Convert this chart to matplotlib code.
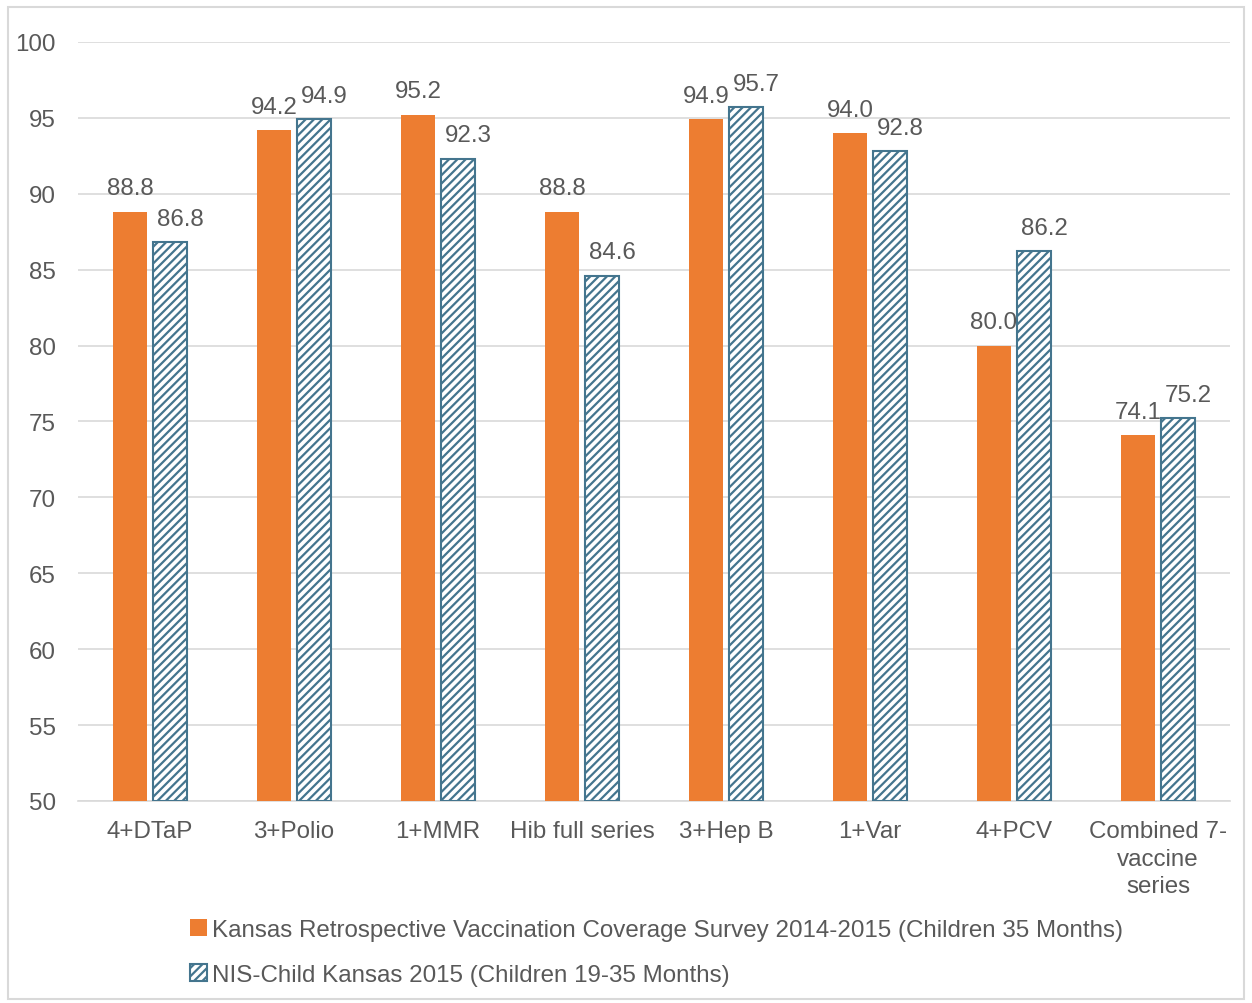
import numpy as np
import matplotlib.pyplot as plt
from matplotlib.patches import Rectangle

plt.rcParams['font.family'] = ['Liberation Sans', 'DejaVu Sans']
plt.rcParams['hatch.linewidth'] = 1.6

categories = ['4+DTaP', '3+Polio', '1+MMR', 'Hib full series', '3+Hep B',
              '1+Var', '4+PCV', 'Combined 7-\nvaccine\nseries']
kansas_survey = [88.8, 94.2, 95.2, 88.8, 94.9, 94.0, 80.0, 74.1]
nis_child = [86.8, 94.9, 92.3, 84.6, 95.7, 92.8, 86.2, 75.2]

series_names = ['Kansas Retrospective Vaccination Coverage Survey 2014-2015 (Children 35 Months)',
                'NIS-Child Kansas 2015 (Children 19-35 Months)']

orange = '#ED7D31'
teal = '#44758E'
text_gray = '#595959'
fs = 17.4

fig = plt.figure(figsize=(12.52, 10.04), dpi=100)
ax = fig.add_axes([0.0623, 0.2012, 0.9201, 0.756])

x = np.arange(len(categories))
w = 0.23
b1 = ax.bar(x - 0.139, np.array(kansas_survey) - 50, w, bottom=50, color=orange,
            label=series_names[0], zorder=3)
b2 = ax.bar(x + 0.139, np.array(nis_child) - 50, w, bottom=50, color='white',
            edgecolor=teal, hatch='////', linewidth=1.5, label=series_names[1], zorder=3)

for xi, v in zip(x - 0.139, kansas_survey):
    ax.annotate(f'{v:.1f}', (xi, v), xytext=(0, 9), textcoords='offset points',
                ha='center', va='bottom', fontsize=fs, color=text_gray)
for xi, v in zip(x + 0.139, nis_child):
    ax.annotate(f'{v:.1f}', (xi + 0.07, v), xytext=(0, 9), textcoords='offset points',
                ha='center', va='bottom', fontsize=fs, color=text_gray)

ax.set_ylim(50, 100)
ax.set_xlim(-0.5, len(categories) - 0.5)
ax.set_yticks(range(50, 101, 5))
ax.set_xticks(x)
ax.set_xticklabels(categories, fontsize=fs, color=text_gray, linespacing=1.3)
ax.tick_params(axis='y', labelsize=fs, labelcolor=text_gray, length=0, pad=16)
ax.tick_params(axis='x', length=0, pad=14)
ax.grid(axis='y', color='#D9D9D9', linewidth=1.2, zorder=0)
for side in ['top', 'right', 'left']:
    ax.spines[side].set_visible(False)
ax.spines['bottom'].set_color('#D9D9D9')
ax.spines['bottom'].set_linewidth(1.2)

leg = fig.legend(handles=[b1, b2], loc='upper left', frameon=False, fontsize=fs,
                 labelspacing=0.95, handlelength=0.7, handleheight=0.7,
                 handletextpad=0.2, borderaxespad=0, borderpad=0)
for t in leg.get_texts():
    t.set_color(text_gray)
leg.set_bbox_to_anchor((190 / 1252, 1 - 920 / 1004), transform=fig.transFigure)

# thin frame round the whole chart
fig.patches.append(Rectangle((8 / 1252, 4 / 1004), 1236 / 1252, 992 / 1004,
                             transform=fig.transFigure, fill=False,
                             edgecolor='#D9D9D9', linewidth=1.5))

fig.savefig('out.png', dpi=100)
